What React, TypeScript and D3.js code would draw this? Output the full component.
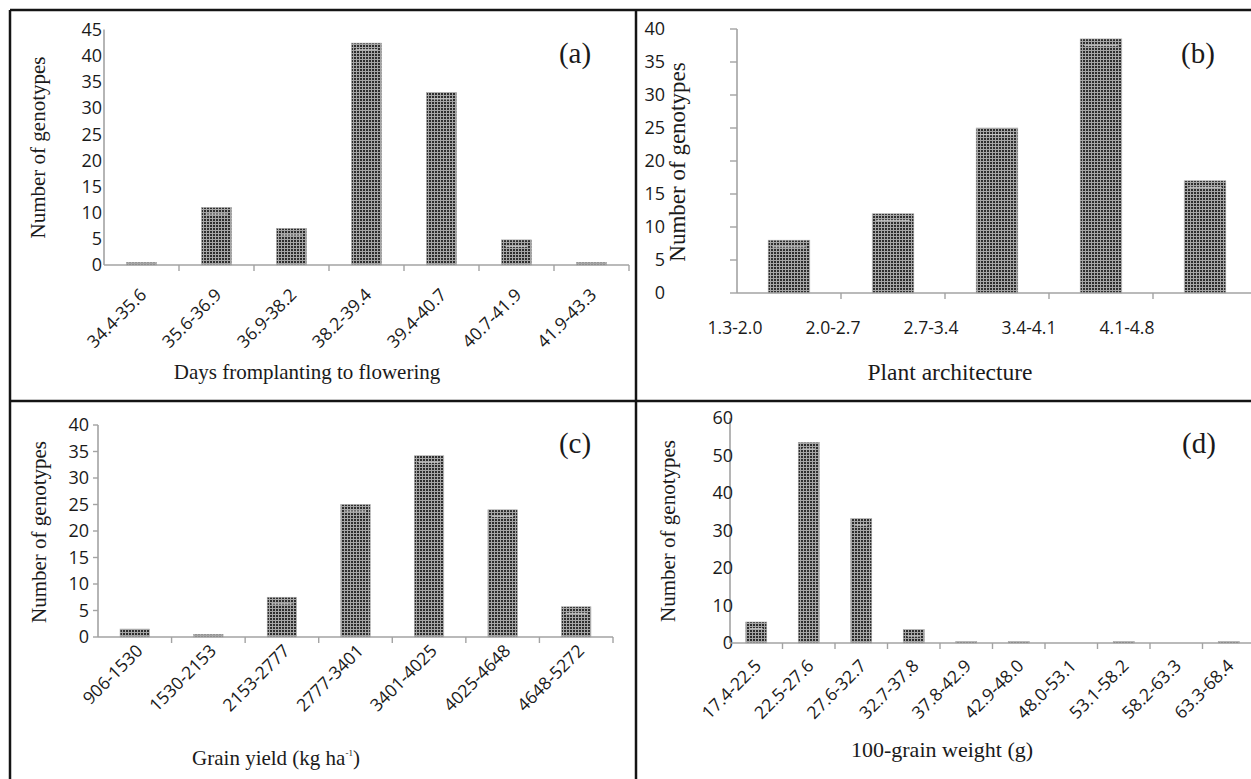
import React from "react";
import * as d3 from "d3";

// ---------- DATA ----------
const A_CATS = ["34.4-35.6", "35.6-36.9", "36.9-38.2", "38.2-39.4", "39.4-40.7", "40.7-41.9", "41.9-43.3"];
const A_VALS = [0.5, 11, 7, 42.4, 33, 4.8, 0.5];
const A_TICKS = [0, 5, 10, 15, 20, 25, 30, 35, 40, 45];

const B_CATS = ["1.3-2.0", "2.0-2.7", "2.7-3.4", "3.4-4.1", "4.1-4.8"];
const B_VALS = [8, 12, 25, 38.5, 17];
const B_TICKS = [0, 5, 10, 15, 20, 25, 30, 35, 40];

const C_CATS = ["906-1530", "1530-2153", "2153-2777", "2777-3401", "3401-4025", "4025-4648", "4648-5272"];
const C_VALS = [1.5, 0.5, 7.5, 25, 34.2, 24, 5.7];
const C_TICKS = [0, 5, 10, 15, 20, 25, 30, 35, 40];

const D_CATS = ["17.4-22.5", "22.5-27.6", "27.6-32.7", "32.7-37.8", "37.8-42.9", "42.9-48.0", "48.0-53.1", "53.1-58.2", "58.2-63.3", "63.3-68.4"];
const D_VALS = [5.6, 53.5, 33.2, 3.6, 0.4, 0.4, 0, 0.4, 0, 0.4];
const D_TICKS = [0, 10, 20, 30, 40, 50, 60];

const SERIF = "'Liberation Serif', 'Times New Roman', serif";
const SANS = "'Open Sans', 'DejaVu Sans', sans-serif";
const AXIS = "#a3a3a3";

type PanelProps = {
  cats: string[];
  vals: number[];
  ticks: number[];
  max: number;
  x0: number;
  x1: number;
  y0: number;
  yTop: number;
  yLabelEnd: number;
  yTickLen: number;
  rotated: boolean;
  labelDx: number;
  labelDy: number;
  pointLabels?: [number, number];
  pointLabelY?: number;
  yTitle: { x: number; y: number; size: number };
  xTitle: { x: number; y: number; size: number; text: React.ReactNode };
  letter: { x: number; y: number; text: string };
};

function Panel(p: PanelProps) {
  const x = d3.scaleBand<string>().domain(p.cats).range([p.x0, p.x1]).paddingInner(0.6).paddingOuter(0.3);
  const y = d3.scaleLinear().domain([0, p.max]).range([p.y0, p.yTop]);
  const step = x.step();
  const bounds = d3.range(1, p.cats.length + 1).map((i) => p.x0 + i * step);
  const pt = p.pointLabels ? d3.scalePoint<string>().domain(p.cats).range(p.pointLabels) : null;
  return (
    <g>
      {/* bars */}
      {p.cats.map((c, i) => {
        const v = p.vals[i];
        if (v <= 0) return null;
        const bx = x(c)!;
        const by = y(v);
        const h = p.y0 - by;
        return (
          <g key={c}>
            <rect x={bx} y={by} width={x.bandwidth()} height={h} fill="url(#dots)" stroke="#a8a8a8" strokeWidth={0.6} />
            {h > 12 && <rect x={bx + 4} y={by + 6} width={x.bandwidth() - 8} height={1.2} fill="#cfcfcf" opacity={0.8} />}
          </g>
        );
      })}
      {/* y axis */}
      <line x1={p.x0} x2={p.x0} y1={p.yTop} y2={p.y0} stroke={AXIS} strokeWidth={1.6} />
      {p.yTickLen > 0 &&
        p.ticks.map((t) => (
          <line key={"yt" + t} x1={p.x0 - p.yTickLen} x2={p.x0} y1={y(t)} y2={y(t)} stroke={AXIS} strokeWidth={1.4} />
        ))}
      {p.ticks.map((t) => (
        <text key={"yl" + t} x={p.yLabelEnd} y={y(t)} dy="0.36em" textAnchor="end" fontFamily={SANS} fontSize={18} fill="#1a1a1a">
          {t}
        </text>
      ))}
      {/* x axis */}
      <line x1={p.x0} x2={p.x1} y1={p.y0} y2={p.y0} stroke={AXIS} strokeWidth={1.6} />
      {bounds.map((b, i) => (
        <line key={"xt" + i} x1={b} x2={b} y1={p.y0} y2={p.y0 + 6} stroke={AXIS} strokeWidth={1.4} />
      ))}
      {p.rotated &&
        p.cats.map((c) => {
          const cx = x(c)! + x.bandwidth() / 2 + p.labelDx;
          const cy = p.y0 + p.labelDy;
          return (
            <text key={"xl" + c} transform={`translate(${cx},${cy}) rotate(-45)`} textAnchor="end" fontFamily={SANS} fontSize={17.5} fill="#1a1a1a">
              {c}
            </text>
          );
        })}
      {pt &&
        p.cats.map((c) => (
          <text key={"xp" + c} x={pt(c)} y={p.pointLabelY} dy="0.36em" textAnchor="middle" fontFamily={SANS} fontSize={17.5} fill="#1a1a1a">
            {c}
          </text>
        ))}
      {/* titles */}
      <text
        transform={`translate(${p.yTitle.x},${p.yTitle.y}) rotate(-90)`}
        textAnchor="middle"
        dy="0.35em"
        fontFamily={SERIF}
        fontSize={p.yTitle.size}
        fill="#1a1a1a"
      >
        Number of genotypes
      </text>
      <text x={p.xTitle.x} y={p.xTitle.y} textAnchor="middle" fontFamily={SERIF} fontSize={p.xTitle.size} fill="#1a1a1a">
        {p.xTitle.text}
      </text>
      <text x={p.letter.x} y={p.letter.y} textAnchor="middle" fontFamily={SERIF} fontSize={29} fill="#1a1a1a">
        {p.letter.text}
      </text>
    </g>
  );
}

export default function App() {
  return (
    <svg width={1251} height={779} style={{ position: "absolute", left: 0, top: 0, background: "#fff" }}>
      <defs>
        <pattern id="dots" width={3} height={3} patternUnits="userSpaceOnUse">
          <rect width={3} height={3} fill="#a6a6a6" />
          <rect width={2} height={2} fill="#2e2e2e" />
        </pattern>
      </defs>
      <rect width={1251} height={779} fill="#fff" />
      <Panel
        cats={A_CATS}
        vals={A_VALS}
        ticks={A_TICKS}
        max={45}
        x0={104}
        x1={629}
        y0={265}
        yTop={29.5}
        yLabelEnd={102}
        yTickLen={0}
        rotated={true}
        labelDx={6}
        labelDy={31}
        yTitle={{ x: 38, y: 147.5, size: 21 }}
        xTitle={{ x: 307, y: 379, size: 21, text: "Days fromplanting to flowering" }}
        letter={{ x: 575, y: 63, text: "(a)" }}
      />
      <Panel
        cats={B_CATS}
        vals={B_VALS}
        ticks={B_TICKS}
        max={40}
        x0={737}
        x1={1257}
        y0={293}
        yTop={29}
        yLabelEnd={665}
        yTickLen={7}
        rotated={false}
        labelDx={0}
        labelDy={0}
        pointLabels={[735, 1127]}
        pointLabelY={328}
        yTitle={{ x: 677, y: 162, size: 23 }}
        xTitle={{ x: 950, y: 380, size: 23.5, text: "Plant architecture" }}
        letter={{ x: 1198, y: 63, text: "(b)" }}
      />
      <Panel
        cats={C_CATS}
        vals={C_VALS}
        ticks={C_TICKS}
        max={40}
        x0={98}
        x1={613}
        y0={637}
        yTop={425}
        yLabelEnd={89}
        yTickLen={5}
        rotated={true}
        labelDx={9}
        labelDy={15}
        yTitle={{ x: 39, y: 532, size: 21 }}
        xTitle={{
          x: 276,
          y: 765,
          size: 21,
          text: (
            <>
              Grain yield (kg ha
              <tspan fontSize={9} dy={-9}>-1</tspan>
              <tspan dy={9}>)</tspan>
            </>
          ),
        }}
        letter={{ x: 575, y: 453, text: "(c)" }}
      />
      <Panel
        cats={D_CATS}
        vals={D_VALS}
        ticks={D_TICKS}
        max={60}
        x0={730}
        x1={1255}
        y0={643}
        yTop={418}
        yLabelEnd={733}
        yTickLen={0}
        rotated={true}
        labelDx={6}
        labelDy={24}
        yTitle={{ x: 668, y: 531, size: 21 }}
        xTitle={{ x: 942, y: 757, size: 22, text: "100-grain weight (g)" }}
        letter={{ x: 1199, y: 453, text: "(d)" }}
      />
      {/* frame */}
      <g stroke="#141414" strokeWidth={2.5}>
        <line x1={10} x2={1251} y1={10} y2={10} />
        <line x1={10} x2={10} y1={10} y2={779} />
        <line x1={636} x2={636} y1={10} y2={779} />
        <line x1={10} x2={1251} y1={401} y2={401} />
      </g>
    </svg>
  );
}
